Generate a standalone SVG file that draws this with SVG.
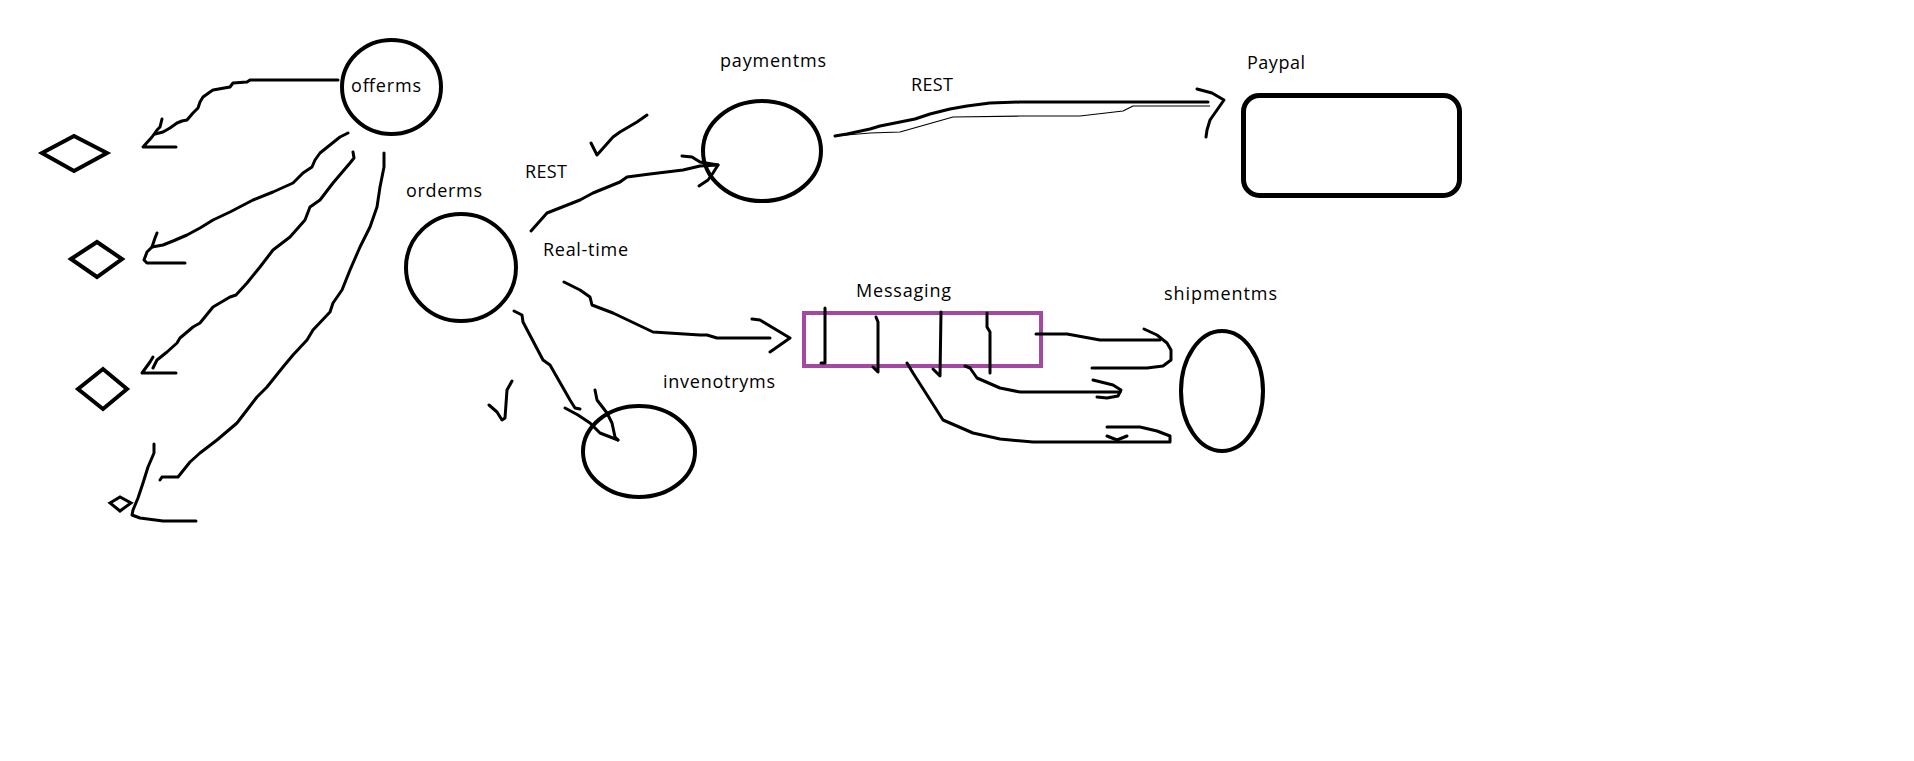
<svg xmlns="http://www.w3.org/2000/svg" width="1914" height="761" viewBox="0 0 1914 761">
<style>
.bg{fill:#fff}
.shape{fill:none;stroke:#000;stroke-width:4}
.q{fill:none;stroke:#a349a4;stroke-width:4}
.c{fill:none;stroke:#000;stroke-width:3;stroke-linejoin:round;stroke-linecap:round}
.thin{fill:none;stroke:#000;stroke-width:1.2;stroke-linejoin:round}
.t{font-family:"Open Sans","Noto Sans","Liberation Sans",sans-serif;font-size:18px;fill:#000}
</style>
<rect class="bg" x="0" y="0" width="1914" height="761"/>

<g id="offerms">
<ellipse class="shape" cx="391.5" cy="87" rx="49.5" ry="47"/>
<text class="t" x="351" y="92" textLength="70">offerms</text>
</g>
<g id="diamond1"><polygon class="shape" points="42,153 74,136 107,153 74,171"/></g>
<g id="diamond2"><polygon class="shape" points="71,259 97,242 122,259 97,277"/></g>
<g id="diamond3"><polygon class="shape" points="78,389 103,369 127,389 103,409"/></g>
<g id="diamond4"><polygon class="shape" style="stroke-width:3" points="110,503 120,497 131,503 120,511"/></g>
<g id="orderms">
<ellipse class="shape" cx="461" cy="267.5" rx="55" ry="53.5"/>
<text class="t" x="406" y="197" textLength="76">orderms</text>
</g>
<g id="paymentms">
<ellipse class="shape" cx="762" cy="151" rx="59" ry="50"/>
<text class="t" x="720" y="67" textLength="106">paymentms</text>
</g>
<g id="paypal">
<rect class="shape" style="stroke-width:5" x="1243.5" y="95.5" width="216" height="100" rx="16"/>
<text class="t" x="1247" y="69" textLength="58">Paypal</text>
</g>
<g id="invenotryms">
<ellipse class="shape" cx="639" cy="451.5" rx="56" ry="45.5"/>
<text class="t" x="663" y="388" textLength="112">invenotryms</text>
</g>
<g id="messaging">
<rect class="q" x="804" y="313" width="237" height="53"/>
<text class="t" x="856" y="297" textLength="95">Messaging</text>
<path class="c" d="M825,308 L825,363 L821,363"/>
<path class="c" d="M876,317 L878,322 L878,372 L873,367"/>
<path class="c" d="M941,312 L940,376 L933,369"/>
<path class="c" d="M987,313 L987,327 L990,332 L990,373"/>
</g>
<g id="shipmentms">
<ellipse class="shape" cx="1222" cy="391" rx="41" ry="60"/>
<text class="t" x="1164" y="300" textLength="113">shipmentms</text>
</g>

<g id="labels">
<text class="t" x="525" y="178" textLength="42">REST</text>
<text class="t" x="911" y="91" textLength="42">REST</text>
<text class="t" x="543" y="256" textLength="85">Real-time</text>
</g>

<g id="connectors">
<path class="c" d="M338,80 L250,80 L247,82 L233,83 L230,87 L213,90 L210,92 L203,97 L200,102 L198,108 L193,113 L187,120 L182,121 L177,123 L170,128 L163,132 L155,134"/>
<path class="c" d="M162,119 L160,127 L157,130 L152,137 L143,147 L176,147"/>

<path class="c" d="M348,133 L340,137 L330,145 L320,153 L315,160 L312,167 L303,173 L293,183 L273,192 L253,200 L230,212 L213,220 L200,228 L187,235 L173,241 L163,245 L152,247"/>
<path class="c" d="M157,233 L155,238 L152,247 L147,252 L144,260 L147,263 L185,263"/>

<path class="c" d="M353,152 L354,158 L350,163 L333,183 L320,200 L310,207 L305,220 L290,237 L273,250 L260,267 L247,283 L236,295 L230,297 L213,307 L200,323 L193,327 L180,338 L177,343 L167,352 L157,360 L153,368"/>
<path class="c" d="M153,357 L150,362 L142,373 L176,373"/>

<path class="c" d="M384,153 L384,167 L380,187 L377,207 L370,227 L360,247 L350,270 L342,290 L333,303 L330,312 L313,330 L307,340 L293,355 L283,367 L267,387 L257,397 L247,410 L237,423 L217,440 L200,453 L190,462 L178,477 L162,477 L160,480"/>
<path class="c" d="M154,444 L154,453 L148,467 L143,483 L138,498 L133,510 L132,515 L140,518 L163,521 L196,521"/>

<path class="c" d="M531,231 L547,213 L580,200 L593,193 L620,182 L627,177 L650,174 L683,170 L700,166 L718,165"/>
<path class="c" d="M682,156 L692,157 L700,162 L718,165 L713,173 L708,180 L699,186"/>

<path class="c" d="M835,136 L847,134 L870,129 L880,126 L900,122 L915,119 L930,114 L950,109 L967,106 L990,103 L1020,102 L1208,102"/>
<path class="thin" d="M835,136 L870,133 L900,132 L953,117 L1020,116 L1080,116 L1123,111 L1133,106 L1210,106"/>
<path class="c" d="M1197,89 L1212,93 L1224,100 L1217,110 L1210,120 L1207,130 L1206,137"/>

<path class="c" d="M564,282 L580,290 L590,297 L592,305 L613,313 L653,332 L700,335 L707,335 L717,338 L770,338"/>
<path class="c" d="M752,319 L760,320 L790,338 L780,345 L770,352"/>

<path class="c" d="M514,311 L522,315 L523,322 L543,360 L550,365 L570,400 L575,408 L580,409"/>
<path class="c" d="M565,408 L578,415 L590,423 L600,433 L618,440"/>
<path class="c" d="M595,390 L597,400 L607,413 L612,423 L615,437 L618,440"/>

<path class="c" d="M1036,334 L1067,334 L1100,340 L1160,340"/>
<path class="c" d="M1144,329 L1157,335 L1167,343 L1171,350 L1171,360 L1163,366 L1147,368 L1092,368"/>

<path class="c" d="M965,366 L970,368 L977,378 L1000,388 L1020,392 L1120,392"/>
<path class="c" d="M1093,380 L1113,385 L1121,390 L1118,396 L1107,398 L1097,397"/>

<path class="c" d="M907,363 L913,373 L943,420 L973,433 L1000,439 L1033,442 L1170,442 L1170,436 L1157,431 L1140,427 L1107,427"/>
<path class="c" d="M1107,436 L1117,440 L1127,436"/>

<path class="c" d="M591,143 L597,155 L613,137 L620,132 L637,122 L647,115"/>
<path class="c" d="M512,381 L507,390 L505,418 L502,420 L497,412 L489,405"/>
</g>
</svg>
